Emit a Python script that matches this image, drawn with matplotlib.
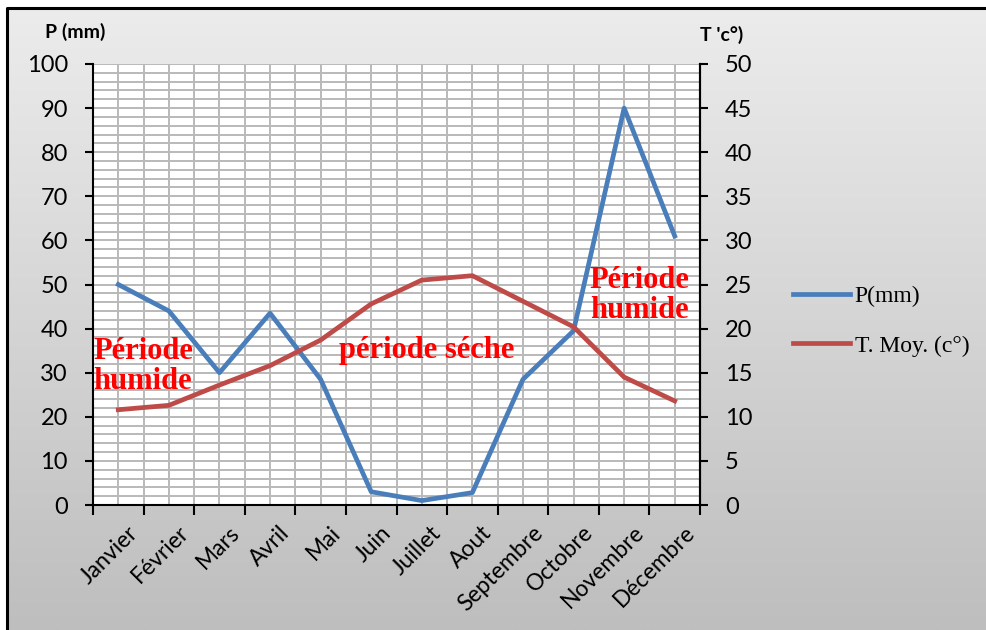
import numpy as np
import matplotlib
matplotlib.use("Agg")
import matplotlib.pyplot as plt
from matplotlib.transforms import ScaledTranslation

# Précipitations et températures moyennes mensuelles
mois = ["Janvier", "Février", "Mars", "Avril", "Mai", "Juin", "Juillet",
        "Aout", "Septembre", "Octobre", "Novembre", "Décembre"]
precip = [50, 44, 30, 43.5, 28.5, 3, 1, 2.8, 28.5, 39.5, 90, 61]
temp = [10.8, 11.3, 13.6, 15.8, 18.7, 22.8, 25.5, 26, 23.1, 20.2, 14.5, 11.8]

plt.rcParams['font.family'] = ['Lato', 'DejaVu Sans']

fig = plt.figure(figsize=(9.86, 6.30), dpi=100)
fig.patch.set_facecolor('white')

# fond dégradé avec cadre noir
bg = fig.add_axes([7/986, 0, 1 - 7/986, 1 - 8/630], zorder=-10)
grad = np.linspace(0, 1, 256).reshape(-1, 1)
bg.imshow(grad, aspect='auto', cmap=matplotlib.colors.LinearSegmentedColormap.from_list(
    'g', ['#ececec', '#bebebe']), extent=[0, 1, 0, 1], origin='upper')
bg.set_xlim(0, 1)
bg.set_ylim(0, 1)
bg.set_xticks([])
bg.set_yticks([])
for s in bg.spines.values():
    s.set_visible(False)
bg.plot([0, 0, 1], [0, 1, 1], color='black', lw=2.2, clip_on=False)

ax = fig.add_axes([93/986, 1 - 505/630, 607/986, 441/630])
ax.set_facecolor('white')
x = np.arange(len(mois))

ax.plot(x, precip, color='#4a7ebb', lw=3.4, label='P(mm)', zorder=3)
ax2 = ax.twinx()
ax2.plot(x, temp, color='#be4b48', lw=3.4, label='T. Moy. (c°)', zorder=3)

ax.set_xlim(-0.5, 11.5)
ax.set_ylim(0, 100)
ax2.set_ylim(0, 50)

ax.set_xticks(np.arange(-0.5, 12, 1))
ax.set_xticklabels([])
ax.set_xticks(x, minor=True)
ax.tick_params(axis='x', which='minor', length=0, labelbottom=False)
ax.tick_params(axis='x', which='major', length=7, width=1.5, direction='out')

# étiquettes des mois, inclinées et légèrement décalées à droite
trans = ax.get_xaxis_transform() + ScaledTranslation(9/100, -17/100, fig.dpi_scale_trans)
for xi, m in zip(x, mois):
    ax.text(xi, 0, m, transform=trans, rotation=45, ha='right', va='top',
            rotation_mode='anchor', fontsize=16.5)

ax.set_yticks(np.arange(0, 101, 10))
ax.set_yticks(np.arange(0, 101, 2), minor=True)
ax.tick_params(axis='y', which='major', labelsize=17, length=6, width=1.5, pad=12)
ax.tick_params(axis='y', which='minor', length=0)
ax2.set_yticks(np.arange(0, 51, 5))
ax2.tick_params(axis='y', labelsize=17, length=6, width=1.5, pad=12)

ax.grid(True, which='both', color='#b9b9b9', lw=1.4)
ax.set_axisbelow(True)

for a in (ax, ax2):
    a.spines['top'].set_visible(False)
    a.spines['left'].set_linewidth(1.5)
    a.spines['right'].set_linewidth(1.5)
    a.spines['bottom'].set_linewidth(1.5)
ax2.spines['left'].set_visible(False)
ax2.spines['bottom'].set_visible(False)

fig.text(45/986, 1 - 32/630, 'P (mm)', fontsize=14, fontweight='bold', va='center')
fig.text(700/986, 1 - 35/630, "T 'c°)", fontsize=14, fontweight='bold', va='center')

serif = ['Liberation Serif', 'DejaVu Serif']
ax.text(-0.5, 31.5, 'Période\nhumide', color='red', fontsize=22, fontweight='bold',
        family=serif, ha='left', va='center', linespacing=1.05, zorder=4)
ax.text(6.1, 35, 'période séche', color='red', fontsize=22, fontweight='bold',
        family=serif, ha='center', va='center', zorder=4)
ax.text(10.3, 47.5, 'Période\nhumide', color='red', fontsize=22, fontweight='bold',
        family=serif, ha='center', va='center', linespacing=1.05, zorder=4)

h1, l1 = ax.get_legend_handles_labels()
h2, l2 = ax2.get_legend_handles_labels()
fig.legend(h1 + h2, l1 + l2, loc='center left', bbox_to_anchor=(772/986, 1 - 321/630),
           frameon=False, prop={'family': serif, 'size': 17}, handlelength=2.4,
           labelspacing=1.2, handletextpad=0.2)

fig.savefig('out.png', dpi=100)
